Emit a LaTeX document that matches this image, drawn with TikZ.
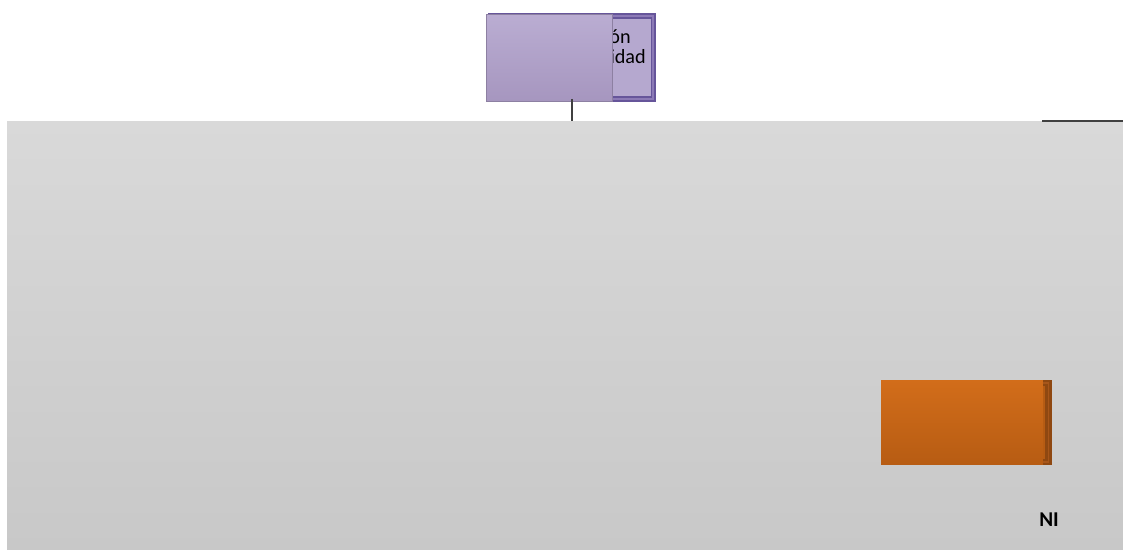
\documentclass[tikz,border=0pt]{standalone}
\usepackage{fontspec}
\setmainfont{Carlito}
\usepackage{xcolor}
\usetikzlibrary{positioning, calc}
\definecolor{panelTop}{HTML}{D9D9D9}
\definecolor{panelBot}{HTML}{C8C8C8}
\definecolor{lilaTop}{HTML}{BAADD2}
\definecolor{lilaBot}{HTML}{A696BF}
\definecolor{lilaEdge}{HTML}{66559A}
\definecolor{lilaMid}{HTML}{8C7AB6}
\definecolor{lilaBack}{HTML}{B5A8CF}
\definecolor{naraTop}{HTML}{D26D1A}
\definecolor{naraBot}{HTML}{B75C13}
\definecolor{naraEdge}{HTML}{8F4811}
\definecolor{naraMid}{HTML}{A7561A}
\definecolor{linea}{HTML}{404040}
\tikzset{ caja/.style={draw=none, inner sep=0pt, outer sep=0pt},
        marco/.style={caja, line width=0.9pt, double distance=1.3pt},
        texto/.style={anchor=west, inner sep=0pt, font=\fontsize{11.5}{13}\selectfont},
        conector/.style={draw=linea, line width=0.7pt}}
\begin{document}
\begin{tikzpicture}[x=0.02cm,y=-0.02cm]
\useasboundingbox (0,0) rectangle (1123,550);

%panel de fondo
\node[caja, top color=panelTop, bottom color=panelBot,
  minimum width=22.32cm, minimum height=8.58cm] (panel) at (565,335.5) {};

%caja lila
\node[marco, draw=lilaEdge, double=lilaMid, fill=lilaBack,
  minimum width=3.25cm, minimum height=1.66cm] (dir) at (572,57.5) {};
\node[texto] (dirA) at (609,37) {ón};
\node[texto] (dirB) at (602,57) {sidad};
\node[caja, draw=lilaBot!85!black, line width=0.3pt, top color=lilaTop, bottom color=lilaBot,
  minimum width=2.52cm, minimum height=1.74cm] (dirF) at (549,57.5) {};

%caja naranja
\node[marco, line width=1.2pt, double distance=1.1pt, draw=naraEdge, double=naraMid, fill=naraBot,
  minimum width=3.2cm, minimum height=1.58cm] (uni) at (968.5,422.5) {};
\node[caja, top color=naraTop, bottom color=naraBot,
  minimum width=3.24cm, minimum height=1.7cm] (uniF) at (962,422.5) {};

\node[font=\bfseries\fontsize{12}{14}\selectfont, inner sep=0pt] (ni) at (1049,520) {NI};

%conectores
\coordinate (fin) at (1123,121);
\draw[conector] (dir.south) -- (dir.south |- panel.north);
\draw[conector] (fin) -- ++(-81,0);
\end{tikzpicture}
\end{document}
